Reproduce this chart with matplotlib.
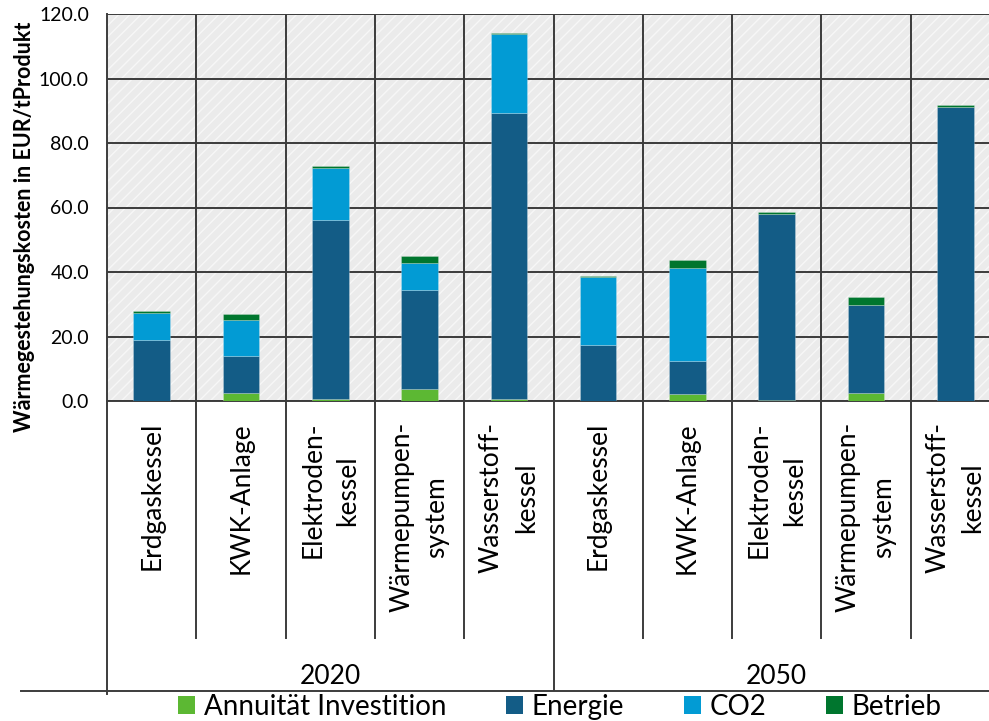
import matplotlib
matplotlib.use("Agg")
import matplotlib.pyplot as plt
from matplotlib.patches import Patch, Rectangle
from matplotlib.lines import Line2D
from matplotlib.transforms import blended_transform_factory
import numpy as np

plt.rcParams["font.family"] = ["Lato", "DejaVu Sans"]
plt.rcParams["hatch.color"] = "white"
plt.rcParams["hatch.linewidth"] = 1.0

# Waermegestehungskosten je Technologie, 2020 und 2050
technologien = ["Erdgaskessel", "KWK-Anlage", "Elektroden-\nkessel",
                "Wärmepumpen-\nsystem", "Wasserstoff-\nkessel"]
jahre = ["2020", "2050"]
kategorien = technologien + technologien

investition = [0.0, 2.4, 0.5, 3.6, 0.5, 0.0, 2.1, 0.3, 2.4, 0.0]
energie = [19.0, 11.4, 55.5, 30.7, 88.9, 17.3, 10.3, 57.8, 27.4, 91.3]
co2 = [8.3, 11.2, 16.3, 8.5, 24.4, 21.0, 28.8, 0.0, 0.0, 0.0]
betrieb = [0.7, 2.0, 0.5, 2.1, 0.3, 0.6, 2.4, 0.5, 2.6, 0.6]

reihen = ["Annuität Investition", "Energie", "CO2", "Betrieb"]
farben = ["#5cb833", "#135c86", "#029bd4", "#00762e"]

W, H = 989, 721
fig = plt.figure(figsize=(W / 100, H / 100), dpi=100)

def fy(px):
    # Pixel von oben -> Figurkoordinate
    return 1 - px / H

ax_left, ax_right, ax_top, ax_bottom = 107, 1000, 14, 401
ax = fig.add_axes([ax_left / W, fy(ax_bottom), (ax_right - ax_left) / W,
                   (ax_bottom - ax_top) / H])

# schraffierter Hintergrund
ax.set_facecolor("#ebebeb")
ax.add_patch(Rectangle((0, 0), 1, 1, transform=ax.transAxes, facecolor="none",
                       edgecolor="#f7f7f7", hatch="///", lw=0, zorder=0))

x = np.arange(len(kategorien))
unten = np.zeros(len(kategorien))
for werte, name, farbe in zip([investition, energie, co2, betrieb], reihen, farben):
    ax.bar(x, werte, width=0.41, bottom=unten, color=farbe, label=name,
           edgecolor=(1, 1, 1, 0.25), linewidth=0.6, zorder=3)
    unten += np.array(werte)

ax.set_xlim(-0.5, len(kategorien) - 0.5)
ax.set_ylim(0, 120)
ax.set_yticks(np.arange(0, 121, 20))
ax.set_yticklabels([f"{v:.1f}" for v in np.arange(0, 121, 20)], fontsize=14)
ax.tick_params(axis="y", length=0, pad=13)
ax.set_xticks([])
ax.grid(axis="y", color="#3c3c3c", linewidth=1.4, zorder=1)
for xb in np.arange(0.5, len(kategorien) - 0.5):
    ax.axvline(xb, color="#3c3c3c", linewidth=1.4, zorder=1)
for s in ["top", "right"]:
    ax.spines[s].set_visible(False)
ax.spines["left"].set_color("#3c3c3c")
ax.spines["left"].set_linewidth(1.4)
ax.spines["bottom"].set_color("#3c3c3c")
ax.spines["bottom"].set_linewidth(1.4)
ax.set_axisbelow(True)

fig.text(25 / W, fy(227), "Wärmegestehungskosten in EUR/tProdukt", rotation=90,
         ha="center", va="center", fontsize=15.5, fontweight="bold")

# Achsenbeschriftung unterhalb: Kategorien und Jahre
trans = blended_transform_factory(ax.transData, fig.transFigure)
for xb in np.arange(0.5, len(kategorien) - 0.5):
    ende = 690 if xb == len(technologien) - 0.5 else 638
    fig.add_artist(Line2D([xb, xb], [fy(ax_bottom), fy(ende)], transform=trans,
                          color="#3c3c3c", linewidth=1.4))
fig.add_artist(Line2D([-0.5, -0.5], [fy(ax_bottom), fy(694)], transform=trans,
                      color="#3c3c3c", linewidth=1.4))
fig.add_artist(Line2D([21 / W, 1], [fy(691), fy(691)], color="#3c3c3c",
                      linewidth=1.4))

texte = []
for xi, name in zip(x, kategorien):
    t = fig.text(xi, fy(422), name, transform=trans, rotation=90, ha="center",
                 va="top", multialignment="center", fontsize=19, linespacing=1.5)
    texte.append(t)
for i, jahr in enumerate(jahre):
    mitte = i * len(technologien) + (len(technologien) - 1) / 2
    fig.text(mitte, fy(677), jahr, transform=trans, ha="center", va="center",
             fontsize=19)

# zu lange Beschriftungen nach oben schieben
fig.canvas.draw()
grenze = H - 637
for t in texte:
    bb = t.get_window_extent()
    if bb.y0 < grenze:
        px, py = t.get_position()
        t.set_position((px, py + (grenze - bb.y0) / H))

handles = [Patch(facecolor=f, edgecolor="none") for f in farben]
fig.legend(handles, reihen, loc="center", bbox_to_anchor=(0.566, fy(707)), ncol=4,
           frameon=False, fontsize=20, handlelength=0.62, handleheight=0.62,
           handletextpad=0.3, columnspacing=2.15, borderaxespad=0, borderpad=0)

fig.savefig("out.png", dpi=100)
